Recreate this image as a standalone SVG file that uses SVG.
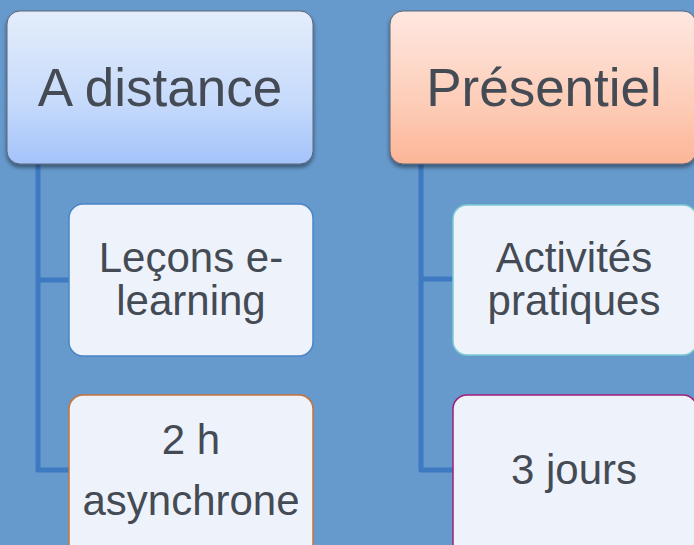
<svg xmlns="http://www.w3.org/2000/svg" width="694" height="545" viewBox="0 0 694 545">
<defs>
<linearGradient id="gBlue" x1="0" y1="0" x2="0" y2="1">
<stop offset="0" stop-color="#E4EDFB"/>
<stop offset="0.6" stop-color="#C6DAFB"/>
<stop offset="1" stop-color="#A3C3FA"/>
</linearGradient>
<linearGradient id="gOrange" x1="0" y1="0" x2="0" y2="1">
<stop offset="0" stop-color="#FEE8E1"/>
<stop offset="0.6" stop-color="#FDCDB8"/>
<stop offset="1" stop-color="#FCB597"/>
</linearGradient>
<filter id="sh" x="-10%" y="-10%" width="120%" height="130%">
<feGaussianBlur in="SourceAlpha" stdDeviation="2"/>
<feOffset dx="0" dy="3"/>
<feComponentTransfer><feFuncA type="linear" slope="0.45"/></feComponentTransfer>
<feMerge><feMergeNode/><feMergeNode in="SourceGraphic"/></feMerge>
</filter>
</defs>
<style>
.t{font-family:"Liberation Sans",Arial,sans-serif;fill:#454B54;text-anchor:middle}
.big{font-size:53px}
.sm{font-size:42px}
.child{fill:#EEF3FB;stroke-width:1.5}
.conn{fill:none;stroke:#3D7AC2;stroke-width:5;stroke-linejoin:round}
.parent{stroke:#5A6678;stroke-width:1}
</style>
<rect x="0" y="0" width="694" height="545" fill="#6699CC"/>
<g id="connectors">
<path class="conn" d="M38,164 V470 H70 M38,280 H70"/>
<path class="conn" d="M421,164 V470 H455 M421,279 H455"/>
</g>
<g id="n-distance">
<rect class="parent" x="7" y="11" width="306" height="153" rx="13" fill="url(#gBlue)" filter="url(#sh)"/>
<text class="t big" x="160" y="106">A distance</text>
</g>
<g id="n-presentiel">
<rect class="parent" x="390" y="11" width="306" height="153" rx="13" fill="url(#gOrange)" filter="url(#sh)"/>
<text class="t big" x="544" y="106">Présentiel</text>
</g>
<g id="n-lecons">
<rect class="child" x="69" y="204" width="244" height="152" rx="14" stroke="#4A86C8"/>
<text class="t sm" x="191" y="272">Leçons e-</text>
<text class="t sm" x="191" y="315">learning</text>
</g>
<g id="n-2h">
<rect class="child" x="69" y="395" width="244" height="170" rx="14" stroke="#C8743A"/>
<text class="t sm" x="191" y="454">2 h</text>
<text class="t sm" x="191" y="515">asynchrone</text>
</g>
<g id="n-activites">
<rect class="child" x="453" y="205" width="244" height="150" rx="14" stroke="#7CCAD2"/>
<text class="t sm" x="574" y="272">Activités</text>
<text class="t sm" x="574" y="315">pratiques</text>
</g>
<g id="n-3jours">
<rect class="child" x="453" y="395" width="244" height="170" rx="14" stroke="#A01F7C"/>
<text class="t sm" x="574" y="484">3 jours</text>
</g>
</svg>
